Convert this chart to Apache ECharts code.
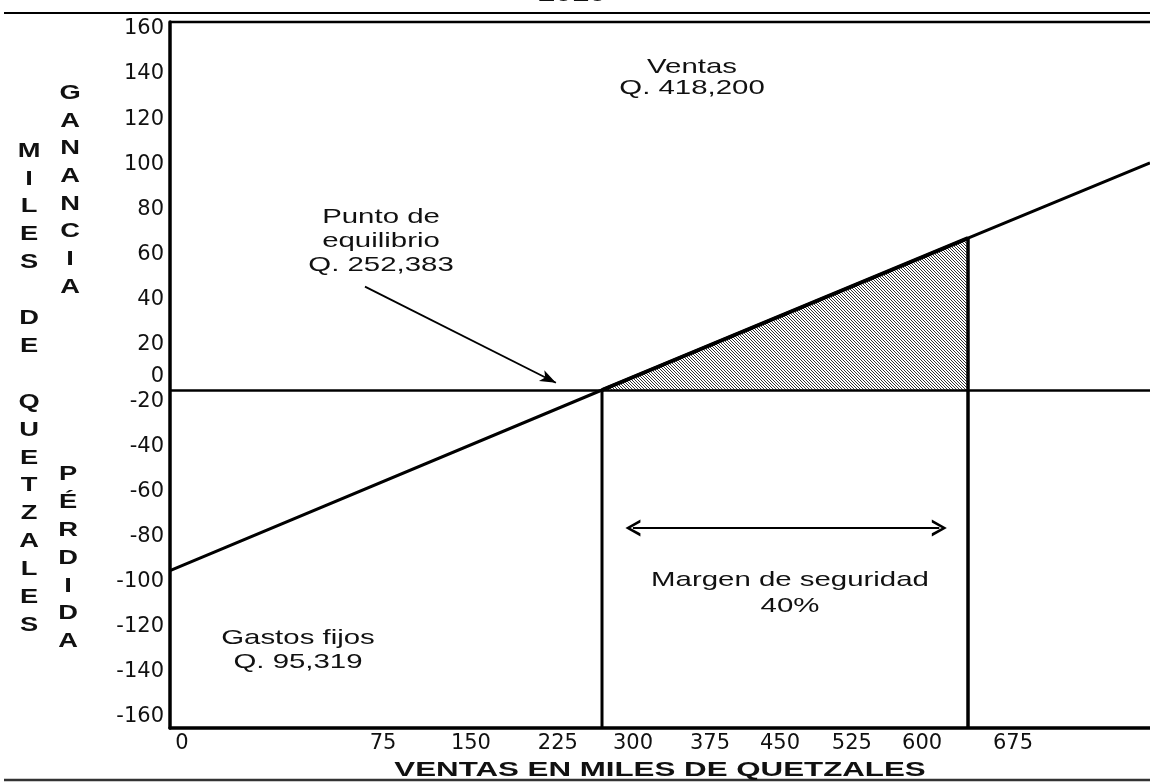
<!DOCTYPE html>
<html lang="es">
<head>
    <meta charset="UTF-8">
    <title>Punto de equilibrio 2010</title>
    <script src="https://cdn.jsdelivr.net/npm/echarts@6/dist/echarts.min.js"></script>
    <style>
        html, body { margin: 0; padding: 0; background: #fff; }
        #main { width: 1150px; height: 783px; }
    </style>
</head>
<body>
<div id="main"></div>

<script>
    // valores en miles de quetzales
    var gastosFijos = 95.319;
    var puntoEquilibrio = 252.383;
    var ventas = 418.2;
    var gananciaEnVentas = 67.3;

    // recta de resultado
    var rectaX = [56.66, 252.383, 418.2, 500.65];
    var rectaY = [-80, 0, 67.3, 100.6];

    // etiquetas del eje x como estan impresas, y donde caen sobre la escala
    var xEtiquetas = ['0', '75', '150', '225', '300', '375', '450', '525', '600', '675'];
    var xEtiquetasEn = [62.1, 153.2, 193.0, 232.4, 266.4, 301.3, 333.0, 365.6, 397.4, 438.6];

    // etiquetas del eje y (ganancia arriba, perdida abajo)
    var yGanancia = [160, 140, 120, 100, 80, 60, 40, 20, 0];
    var yPerdida = [-20, -40, -60, -80, -100, -120, -140, -160];

    var xMin = 56.66, xMax = 500.65;
    var yMin = -149.76, yMax = 163.05;
    var desplazPerdida = 15.1; // las etiquetas negativas estan corridas en el original

    // trama rayada del triangulo de ganancia
    var trama = document.createElement('canvas');
    trama.width = 3;
    trama.height = 3;
    var ctx = trama.getContext('2d');
    ctx.fillStyle = '#fff';
    ctx.fillRect(0, 0, 3, 3);
    ctx.fillStyle = '#333';
    for (var i = 0; i < 3; i++) {
        ctx.fillRect(i, i, 1, 1);
    }

    var fuenteEje = {fontFamily: 'DejaVu Sans', fontSize: 21, color: '#111'};

    function texto(str, x, y, size, bold, sx, lh) {
        return {
            type: 'text', x: x, y: y, scaleX: sx, silent: true, z: 10,
            style: {
                text: str, x: 0, y: 0,
                align: 'center', verticalAlign: 'middle',
                textAlign: 'center', textVerticalAlign: 'middle',
                font: (bold ? 'bold ' : '') + size + 'px "Liberation Sans", Arial, sans-serif',
                fill: '#111', lineHeight: lh
            }
        };
    }

    function raya(x1, y1, x2, y2, w, c) {
        return {type: 'line', silent: true, shape: {x1: x1, y1: y1, x2: x2, y2: y2},
            style: {stroke: c || '#000', lineWidth: w}};
    }

    var chevron = 'path://M0,10 L5,0 L10,10 L8.2,10 L5,3.4 L1.8,10 Z';

    var myChart = echarts.init(document.getElementById('main'));

    var option = {
        animation: false,
        backgroundColor: '#fff',
        grid: {left: 170, right: 0, top: 22, bottom: 55},
        xAxis: {
            type: 'value', min: xMin, max: xMax,
            axisLine: {show: true, onZero: false, lineStyle: {color: '#000', width: 3.5}},
            axisTick: {show: false},
            splitLine: {show: false},
            axisLabel: Object.assign({
                customValues: xEtiquetasEn,
                margin: 5,
                formatter: function (v) {
                    for (var i = 0; i < xEtiquetasEn.length; i++) {
                        if (Math.abs(xEtiquetasEn[i] - v) < 0.01) return xEtiquetas[i];
                    }
                    return '';
                }
            }, fuenteEje)
        },
        yAxis: [
            {
                type: 'value', min: yMin, max: yMax,
                axisLine: {show: true, onZero: false, lineStyle: {color: '#000', width: 3.5}},
                axisTick: {show: false},
                splitLine: {show: false},
                axisLabel: Object.assign({
                    customValues: yGanancia,
                    margin: 6,
                    formatter: function (v) {
                        return v === 0 ? '{z|0}' : String(v);
                    },
                    rich: {z: {padding: [0, 0, 26, 0], fontFamily: 'DejaVu Sans', fontSize: 21, color: '#111'}}
                }, fuenteEje)
            },
            {
                type: 'value', position: 'left',
                min: yMin - desplazPerdida, max: yMax - desplazPerdida,
                axisLine: {show: false},
                axisTick: {show: false},
                splitLine: {show: false},
                axisLabel: Object.assign({customValues: yPerdida, margin: 6}, fuenteEje)
            }
        ],
        series: [
            {
                name: 'Resultado',
                type: 'line',
                data: rectaX.map(function (x, i) { return [x, rectaY[i]]; }),
                symbol: 'none',
                lineStyle: {color: '#000', width: 3},
                markLine: {
                    silent: true,
                    symbol: ['none', 'none'],
                    label: {show: false},
                    lineStyle: {color: '#000', width: 2.5, type: 'solid'},
                    data: [
                        {yAxis: 0},
                        [
                            {coord: [145.0, 45.8], symbol: 'none', lineStyle: {width: 1.8}},
                            {coord: [231.5, 3.2], symbol: 'arrow', symbolSize: [9, 16]}
                        ],
                        [
                            {coord: [puntoEquilibrio + 14, -61.1], symbol: chevron, symbolSize: [17, 15], lineStyle: {width: 2.2}},
                            {coord: [ventas - 13, -61.1], symbol: chevron, symbolSize: [17, 15]}
                        ]
                    ]
                }
            },
            {
                name: 'Ganancia',
                type: 'line',
                data: [[puntoEquilibrio, 0], [ventas, gananciaEnVentas]],
                symbol: 'none',
                lineStyle: {color: '#000', width: 4},
                areaStyle: {color: {image: trama, repeat: 'repeat'}, opacity: 1}
            },
            {
                name: 'Equilibrio',
                type: 'line',
                data: [[puntoEquilibrio, 0], [puntoEquilibrio, yMin]],
                symbol: 'none',
                lineStyle: {color: '#000', width: 3}
            },
            {
                name: 'Ventas',
                type: 'line',
                data: [[ventas, gananciaEnVentas], [ventas, yMin]],
                symbol: 'none',
                lineStyle: {color: '#000', width: 3.5}
            }
        ],
        graphic: [
            raya(4, 13, 1150, 13, 2),
            raya(170, 22, 1150, 22, 2.5),
            raya(4, 780, 1150, 780, 2.5, '#333'),
            texto('2010', 572, -5, 21, true, 1.45, 24),
            texto('M\nI\nL\nE\nS\n \nD\nE\n \nQ\nU\nE\nT\nZ\nA\nL\nE\nS', 29, 388, 21, true, 1.3, 27.9),
            texto('G\nA\nN\nA\nN\nC\nI\nA', 70, 190, 21, true, 1.3, 27.7),
            texto('P\nÉ\nR\nD\nI\nD\nA', 68, 558, 21, true, 1.3, 27.8),
            texto('Ventas\nQ. 418,200', 692, 78, 21, false, 1.4, 21),
            texto('Punto de\nequilibrio\nQ. 252,383', 381, 241, 21, false, 1.4, 24),
            texto('Gastos fijos\nQ. 95,319', 298, 650, 21, false, 1.4, 24),
            texto('Margen de seguridad\n40%', 790, 593, 21, false, 1.4, 26),
            texto('VENTAS EN MILES DE QUETZALES', 660, 770, 21, true, 1.49, 24)
        ]
    };

    myChart.setOption(option, true);
</script>
</body>
</html>
